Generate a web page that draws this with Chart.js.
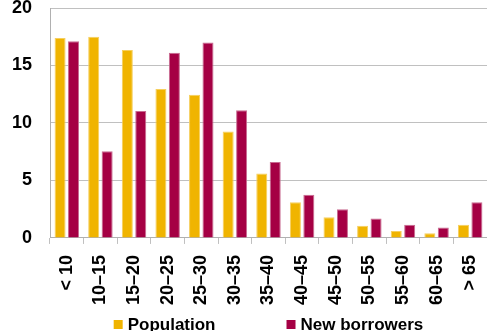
<!DOCTYPE html>
<html>
<head>
<meta charset="utf-8">
<script src="https://cdn.jsdelivr.net/npm/chart.js@4.4.1/dist/chart.umd.min.js"></script>
<style>
  html, body { margin: 0; padding: 0; background: #ffffff; }
  #wrap { width: 487px; height: 331px; position: relative; }
</style>
</head>
<body>
<div id="wrap"><canvas id="chart"></canvas></div>
<script>
// Age bands (years)
const categories = ['< 10', '10–15', '15–20', '20–25', '25–30', '30–35', '35–40',
                    '40–45', '45–50', '50–55', '55–60', '60–65', '> 65'];

// Shares in per cent
const population    = [17.4, 17.5, 16.35, 12.95, 12.45, 9.25, 5.6, 3.1, 1.8, 1.05, 0.6, 0.4, 1.15];
const newBorrowers  = [17.1, 7.55, 11.05, 16.1, 17.0, 11.1, 6.6, 3.75, 2.5, 1.7, 1.15, 0.9, 3.1];

const yTicks = [0, 5, 10, 15, 20];

const FONT = "'Liberation Sans', Arial, sans-serif";

// simple legend drawn under the axis labels, with a wide gap between items
const bottomLegend = {
    id: 'bottomLegend',
    afterDraw(chart) {
        const ctx = chart.ctx;
        const area = chart.chartArea;
        const box = 9, gap = 5, itemGap = 71;
        ctx.save();
        ctx.font = 'bold 17px ' + FONT;
        ctx.textBaseline = 'middle';
        const items = chart.data.datasets.map(ds => ({
            text: ds.label,
            color: ds.backgroundColor,
            w: box + gap + ctx.measureText(ds.label).width
        }));
        const total = items.reduce((s, it) => s + it.w, 0) + itemGap * (items.length - 1);
        let x = (area.left + area.right) / 2 - total / 2;
        const y = chart.height - 6;
        items.forEach(it => {
            ctx.fillStyle = it.color;
            ctx.fillRect(x, y - box / 2 - 0.5, box, box);
            ctx.fillStyle = '#000000';
            ctx.fillText(it.text, x + box + gap, y);
            x += it.w + itemGap;
        });
        ctx.restore();
    }
};

// drop the extra room Chart.js keeps for the outer labels
function noPadding(scale) {
    scale.paddingLeft = 0;
    scale.paddingRight = 0;
    scale.paddingTop = 0;
    scale.paddingBottom = 0;
}

const ctx = document.getElementById('chart').getContext('2d');
new Chart(ctx, {
    type: 'bar',
    data: {
        labels: categories,
        datasets: [{
            label: 'Population',
            data: population,
            backgroundColor: '#F0B400',
            borderColor: '#F6CF5E',
            borderWidth: 1
        }, {
            label: 'New borrowers',
            data: newBorrowers,
            backgroundColor: '#A50044',
            borderColor: '#C86A90',
            borderWidth: 1
        }]
    },
    options: {
        responsive: true,
        maintainAspectRatio: false,
        animation: false,
        layout: { padding: { left: 12, right: 0, top: 8, bottom: 15 } },
        datasets: {
            bar: { categoryPercentage: 0.8, barPercentage: 0.82 }
        },
        plugins: {
            legend: { display: false },
            tooltip: { enabled: false }
        },
        scales: {
            x: {
                afterFit: noPadding,
                grid: {
                    offset: true,
                    drawOnChartArea: false,
                    drawTicks: true,
                    tickLength: 6,
                    color: '#c0c0c0'
                },
                border: { color: '#b0b0b0', width: 1 },
                ticks: {
                    color: '#000000',
                    font: { family: FONT, size: 18, weight: 'bold' },
                    minRotation: 90,
                    maxRotation: 90,
                    autoSkip: false,
                    padding: 11
                }
            },
            y: {
                min: 0,
                max: 20,
                afterFit: scale => {
                    noPadding(scale);
                    scale.width = 38;
                },
                afterBuildTicks: axis => {
                    axis.ticks = yTicks.map(v => ({ value: v }));
                },
                grid: {
                    drawTicks: false,
                    color: '#c0c0c0',
                    lineWidth: 1
                },
                border: { color: '#b0b0b0', width: 1 },
                ticks: {
                    color: '#000000',
                    font: { family: FONT, size: 18, weight: 'bold' },
                    padding: 18
                }
            }
        }
    },
    plugins: [bottomLegend]
});
</script>
</body>
</html>
